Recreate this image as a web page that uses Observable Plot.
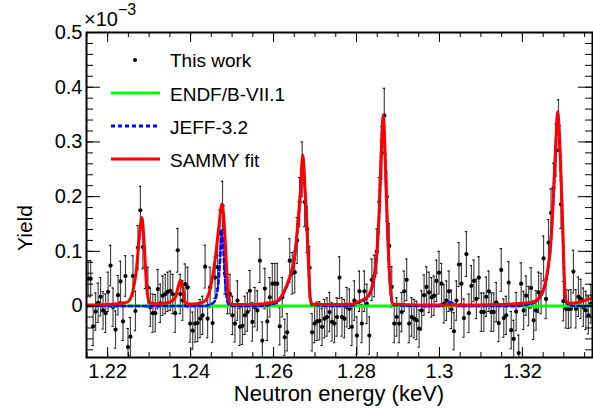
<!DOCTYPE html>
<html><head><meta charset="utf-8">
<script src="https://cdn.jsdelivr.net/npm/d3@7"></script>
<script src="https://cdn.jsdelivr.net/npm/@observablehq/plot@0.6"></script>
<style>body{margin:0;background:#fff} svg{display:block}</style>
</head><body><div id="chart"></div>
<script>
// Data in units of 1e-3 (yield)
const energies = [
1.2153,1.2159,1.2165,1.2171,1.2177,1.2183,1.2189,1.2195,1.2201,1.2207,
1.2213,1.2219,1.2225,1.2231,1.2237,1.2243,1.2249,1.2255,1.2261,1.2267,
1.2273,1.2279,1.2285,1.2291,1.2297,1.2303,1.2309,1.2315,1.2321,1.2327,
1.2333,1.2339,1.2345,1.2351,1.2357,1.2363,1.2369,1.2375,1.2381,1.2387,
1.2393,1.2399,1.2405,1.2411,1.2417,1.2423,1.2429,1.2435,1.2441,1.2447,
1.2453,1.2459,1.2465,1.2471,1.2477,1.2483,1.2489,1.2495,1.2501,1.2507,
1.2513,1.2519,1.2525,1.2531,1.2537,1.2543,1.2549,1.2555,1.2561,1.2567,
1.2573,1.2579,1.2585,1.2591,1.2597,1.2603,1.2609,1.2615,1.2621,1.2627,
1.2633,1.2639,1.2645,1.2651,1.2657,1.2663,1.2669,1.2675,1.2681,1.2687,
1.2693,1.2699,1.2705,1.2711,1.2717,1.2723,1.2729,1.2735,1.2741,1.2747,
1.2753,1.2759,1.2765,1.2771,1.2777,1.2783,1.2789,1.2795,1.2801,1.2807,
1.2813,1.2819,1.2825,1.2831,1.2837,1.2843,1.2849,1.2855,1.2861,1.2867,
1.2873,1.2879,1.2885,1.2891,1.2897,1.2903,1.2909,1.2915,1.2921,1.2927,
1.2933,1.2939,1.2945,1.2951,1.2957,1.2963,1.2969,1.2975,1.2981,1.2987,
1.2993,1.2999,1.3005,1.3011,1.3017,1.3023,1.3029,1.3035,1.3041,1.3047,
1.3053,1.3059,1.3065,1.3071,1.3077,1.3083,1.3089,1.3095,1.3101,1.3107,
1.3113,1.3119,1.3125,1.3131,1.3137,1.3143,1.3149,1.3155,1.3161,1.3167,
1.3173,1.3179,1.3185,1.3191,1.3197,1.3203,1.3209,1.3215,1.3221,1.3227,
1.3233,1.3239,1.3245,1.3251,1.3257,1.3263,1.3269,1.3275,1.3281,1.3287,
1.3293,1.3299,1.3305,1.3311,1.3317,1.3323,1.3329,1.3335,1.3341,1.3347,
1.3353,1.3359,1.3365];
const yields = [
0.050,0.050,-0.037,-0.010,0.006,0.017,-0.008,-0.013,0.026,0.074,
-0.002,-0.043,0.020,0.045,-0.028,0.055,-0.075,-0.056,0.055,-0.009,
0.107,0.175,0.108,0.070,0.034,-0.002,-0.013,-0.013,0.031,0.005,
0.019,0.022,0.026,0.028,0.022,-0.013,0.102,0.022,0.010,0.040,
0.034,-0.032,-0.045,-0.032,-0.031,-0.023,-0.017,0.072,-0.023,0.034,
-0.031,0.052,0.071,0.134,0.183,0.060,0.022,0.022,-0.017,-0.032,
0.010,-0.038,-0.036,-0.017,-0.011,0.028,-0.029,-0.002,-0.008,0.083,
-0.063,0.032,-0.028,0.016,0.041,0.041,0.041,-0.037,0.016,-0.057,
-0.048,0.083,0.060,0.062,0.120,0.190,0.250,0.190,0.140,0.070,
-0.048,-0.032,-0.028,-0.027,-0.038,-0.023,-0.020,-0.011,-0.029,-0.032,
-0.020,0.052,-0.020,-0.023,-0.002,-0.005,-0.038,0.010,-0.054,0.027,
-0.032,0.027,0.004,-0.054,0.048,0.055,0.100,0.190,0.280,0.348,
0.200,0.110,0.035,-0.032,-0.020,-0.032,-0.011,0.027,0.048,-0.032,
-0.020,-0.023,-0.026,-0.041,-0.008,0.020,0.035,0.025,0.016,0.019,
0.046,0.061,0.041,0.004,0.010,0.027,-0.006,-0.046,0.010,0.076,
0.041,-0.022,0.095,-0.013,0.037,0.046,0.013,0.052,-0.011,-0.011,
0.017,0.027,-0.011,-0.011,0.007,-0.031,0.066,-0.022,-0.017,0.043,
-0.044,-0.060,-0.010,-0.086,0.041,-0.008,0.019,0.000,0.033,-0.026,
-0.008,0.025,0.023,0.087,0.013,0.116,0.170,0.216,0.285,0.330,
0.186,0.009,-0.005,-0.006,-0.005,0.063,-0.005,0.017,0.013,-0.002,
-0.008,-0.017,0.004];
const errors = [
0.033,0.033,0.035,0.034,0.036,0.035,0.034,0.035,0.036,0.037,
0.035,0.034,0.036,0.037,0.035,0.037,0.034,0.035,0.037,0.036,
0.040,0.044,0.040,0.038,0.037,0.035,0.035,0.034,0.036,0.035,
0.036,0.036,0.036,0.036,0.036,0.035,0.040,0.036,0.036,0.037,
0.037,0.034,0.034,0.034,0.034,0.035,0.035,0.039,0.035,0.037,
0.035,0.038,0.039,0.042,0.045,0.038,0.036,0.036,0.035,0.034,
0.036,0.034,0.034,0.035,0.035,0.037,0.035,0.036,0.036,0.040,
0.034,0.037,0.035,0.036,0.037,0.037,0.037,0.034,0.036,0.033,
0.034,0.040,0.038,0.038,0.042,0.045,0.050,0.045,0.042,0.039,
0.034,0.035,0.035,0.035,0.034,0.035,0.035,0.036,0.035,0.035,
0.035,0.038,0.035,0.035,0.036,0.036,0.034,0.036,0.034,0.037,
0.035,0.037,0.036,0.034,0.038,0.038,0.041,0.045,0.048,0.050,
0.045,0.041,0.037,0.035,0.035,0.035,0.036,0.037,0.038,0.035,
0.035,0.035,0.035,0.034,0.036,0.037,0.037,0.037,0.036,0.036,
0.038,0.039,0.037,0.035,0.036,0.037,0.035,0.034,0.036,0.040,
0.037,0.035,0.041,0.035,0.037,0.038,0.036,0.038,0.035,0.035,
0.036,0.037,0.035,0.035,0.036,0.034,0.039,0.035,0.035,0.038,
0.034,0.034,0.035,0.033,0.038,0.035,0.036,0.036,0.037,0.035,
0.036,0.037,0.037,0.041,0.036,0.042,0.044,0.045,0.048,0.047,
0.044,0.036,0.035,0.035,0.035,0.039,0.035,0.036,0.036,0.035,
0.035,0.034,0.035];

const endfE = [1.2149, 1.3370];
const endfY = [0, 0];

const jeffE = [1.2149,1.2430,1.2455,1.2464,1.2469,1.2473,1.24758,1.2478,1.2482,1.2486,1.2491,1.2505,1.2570,
1.26061,1.26222,1.26384,1.26504,1.26584,1.26649,1.26705,1.26760,1.26809,1.26850,1.26881,1.26929,1.2750,
1.2790,1.28007,1.28248,1.28369,1.28448,1.28506,1.28554,1.28594,1.28648,1.28676,1.28714,1.28755,1.28811,1.28876,1.2950,
1.3005,1.3018,1.3027,1.3036,1.3048,1.3180,
1.32246,1.32405,1.32525,1.32608,1.32688,1.32753,1.32808,1.32849,1.32888,1.32929,1.32970,1.33008,1.33049,1.33129,1.3330,1.3370];
const jeffY = [0,0,0.006,0.025,0.060,0.110,0.140,0.115,0.060,0.022,0.004,0,0,
0.006,0.020,0.050,0.087,0.147,0.208,0.274,0.208,0.135,0.063,0.014,0.002,0,
0.001,0.005,0.014,0.032,0.063,0.111,0.184,0.275,0.347,0.305,0.214,0.123,0.038,0.002,0,
0,0.004,0.007,0.004,0,0,
0.005,0.014,0.032,0.063,0.117,0.208,0.299,0.353,0.317,0.238,0.147,0.050,0.008,0.002,0,0];

const sammyE = [1.2149,1.2200,1.2235,1.22490,1.22610,1.22692,1.22755,1.22827,1.22876,1.22917,1.22958,1.23013,
1.2320,1.2345,1.23633,1.23696,1.23754,1.23809,1.23858,1.23913,
1.2410,1.2425,1.24357,1.24478,1.24598,1.24678,1.24758,1.24816,1.24854,1.24895,1.24936,1.24999,
1.2550,1.2585,1.26061,1.26222,1.26384,1.26504,1.26584,1.26649,1.26705,1.26760,1.26809,1.26850,1.26881,1.26929,
1.2750,1.2790,1.28007,1.28248,1.28369,1.28448,1.28506,1.28554,1.28594,1.28648,1.28676,1.28714,1.28755,1.28811,1.28876,
1.2950,1.3050,1.3150,1.3200,1.32246,1.32405,1.32525,1.32608,1.32688,1.32753,1.32808,1.32849,1.32888,1.32929,1.32970,1.33008,1.33049,1.33129,
1.33370,1.33611,1.3370];
const sammyY = [0.002,0.003,0.005,0.008,0.028,0.065,0.119,0.162,0.119,0.065,0.022,0.006,
0.004,0.006,0.016,0.034,0.047,0.034,0.010,0.004,
0.004,0.006,0.010,0.034,0.089,0.143,0.187,0.143,0.089,0.034,0.008,0.003,
0.003,0.005,0.008,0.022,0.052,0.089,0.149,0.210,0.276,0.210,0.137,0.065,0.016,0.004,
0.003,0.004,0.007,0.016,0.034,0.065,0.113,0.186,0.277,0.349,0.307,0.216,0.125,0.040,0.004,
0.002,0.002,0.003,0.005,0.007,0.016,0.034,0.065,0.119,0.210,0.301,0.355,0.319,0.240,0.149,0.052,0.010,0.005,
0.007,0.013,0.016];

const xTicks = [1.22, 1.24, 1.26, 1.28, 1.30, 1.32];
const yTicks = [0, 0.1, 0.2, 0.3, 0.4, 0.5];
const legendLabels = ["This work", "ENDF/B-VII.1", "JEFF-3.2", "SAMMY fit"];
const xTitle = "Neutron energy (keV)";
const yTitle = "Yield";

// ---- layout ----
const W = 593, H = 412, mL = 86, mR = 1, mT = 32, mB = 55;
const fH = H - mT - mB, fW = W - mL - mR;
const FONT = "'Liberation Sans', Arial, Helvetica, sans-serif";
const xDom = [1.2149, 1.3369], yDom = [-0.094, 0.5];

const pts = energies.map((E, i) => ({E, y: yields[i], e: errors[i]}));
const toXY = (X, Y) => X.map((x, i) => ({x, y: Y[i]}));
const endf = toXY(endfE, endfY), jeff = toXY(jeffE, jeffY), sammy = toXY(sammyE, sammyY);

const xMinor = d3.range(0, 25).map(i => +(1.215 + i * 0.005).toFixed(3));
const yMinor = d3.range(0, 30).map(i => +(-0.08 + i * 0.02).toFixed(2));
const capW = 0.00028;

const chart = Plot.plot({
  width: W, height: H,
  marginLeft: mL, marginRight: mR, marginTop: mT, marginBottom: mB,
  x: {domain: xDom, axis: null},
  y: {domain: yDom, axis: null},
  style: {fontFamily: FONT, background: "#fff", color: "#000"},
  marks: [
    Plot.ruleX(pts, {x: "E", y1: d => d.y - d.e, y2: d => d.y + d.e, stroke: "#000", strokeOpacity: 0.72, strokeWidth: 1.2, clip: true}),
    Plot.ruleY(pts, {y: d => d.y + d.e, x1: d => d.E - capW, x2: d => d.E + capW, stroke: "#000", strokeWidth: 1, clip: true}),
    Plot.ruleY(pts, {y: d => d.y - d.e, x1: d => d.E - capW, x2: d => d.E + capW, stroke: "#000", strokeWidth: 1, clip: true}),
    Plot.dot(pts, {x: "E", y: "y", r: 2.1, fill: "#000", stroke: "none", clip: true}),
    Plot.line(endf, {x: "x", y: "y", stroke: "#00ff00", strokeWidth: 3, clip: true}),
    Plot.line(jeff, {x: "x", y: "y", stroke: "#0000ff", strokeWidth: 2.5, strokeDasharray: "4,3", curve: "monotone-x", clip: true}),
    Plot.line(sammy, {x: "x", y: "y", stroke: "#ff0000", strokeWidth: 3, curve: "monotone-x", clip: true}),
    // ticks (inward, mirrored)
    Plot.ruleX(xMinor, {x: d => d, insetTop: fH - 5, stroke: "#000"}),
    Plot.ruleX(xTicks, {x: d => d, insetTop: fH - 10, stroke: "#000"}),
    Plot.ruleX(xMinor, {x: d => d, insetBottom: fH - 5, stroke: "#000"}),
    Plot.ruleX(xTicks, {x: d => d, insetBottom: fH - 10, stroke: "#000"}),
    Plot.ruleY(yMinor, {y: d => d, insetRight: fW - 7, stroke: "#000"}),
    Plot.ruleY(yTicks, {y: d => d, insetRight: fW - 14, stroke: "#000"}),
    Plot.ruleY(yMinor, {y: d => d, insetLeft: fW - 7, stroke: "#000"}),
    Plot.ruleY(yTicks, {y: d => d, insetLeft: fW - 14, stroke: "#000"}),
    Plot.frame({stroke: "#000", strokeWidth: 2}),
    Plot.axisX(xTicks, {tickSize: 0, tickPadding: 6, fontSize: 20, tickFormat: d => String(+d.toFixed(2)), label: null}),
    Plot.axisY(yTicks, {tickSize: 0, tickPadding: 4, fontSize: 20, tickFormat: d => d === 0 ? "0" : d.toFixed(1), label: null})
  ]
});

const svg = d3.select(chart);
svg.style("font-family", FONT);
// axis titles
svg.append("text").attr("x", 339).attr("y", 401).attr("text-anchor", "middle")
  .attr("font-size", 22).attr("fill", "#000").text(xTitle);
svg.append("text").attr("transform", "translate(32,228) rotate(-90)").attr("text-anchor", "middle")
  .attr("font-size", 21).attr("fill", "#000").text(yTitle);
// exponent
const ex = svg.append("text").attr("x", 84).attr("y", 26).attr("text-anchor", "start").attr("font-size", 20).attr("fill", "#000");
ex.append("tspan").text("×10");
ex.append("tspan").attr("dy", -11).attr("font-size", 16).text("−3");
// legend
const lg = svg.append("g").attr("font-size", 19).attr("fill", "#000").attr("text-anchor", "start");
lg.append("circle").attr("cx", 135).attr("cy", 60).attr("r", 2).attr("fill", "#000");
lg.append("line").attr("x1", 111).attr("x2", 160).attr("y1", 93).attr("y2", 93).attr("stroke", "#00ff00").attr("stroke-width", 3);
lg.append("line").attr("x1", 111).attr("x2", 160).attr("y1", 126).attr("y2", 126).attr("stroke", "#0000ff").attr("stroke-width", 3).attr("stroke-dasharray", "4,3");
lg.append("line").attr("x1", 111).attr("x2", 160).attr("y1", 159).attr("y2", 159).attr("stroke", "#ff0000").attr("stroke-width", 3);
[67, 100.5, 133.5, 167].forEach((y, i) => lg.append("text").attr("x", 170).attr("y", y).attr("text-anchor", "start").text(legendLabels[i]));

document.getElementById("chart").appendChild(chart);
</script>
</body></html>
